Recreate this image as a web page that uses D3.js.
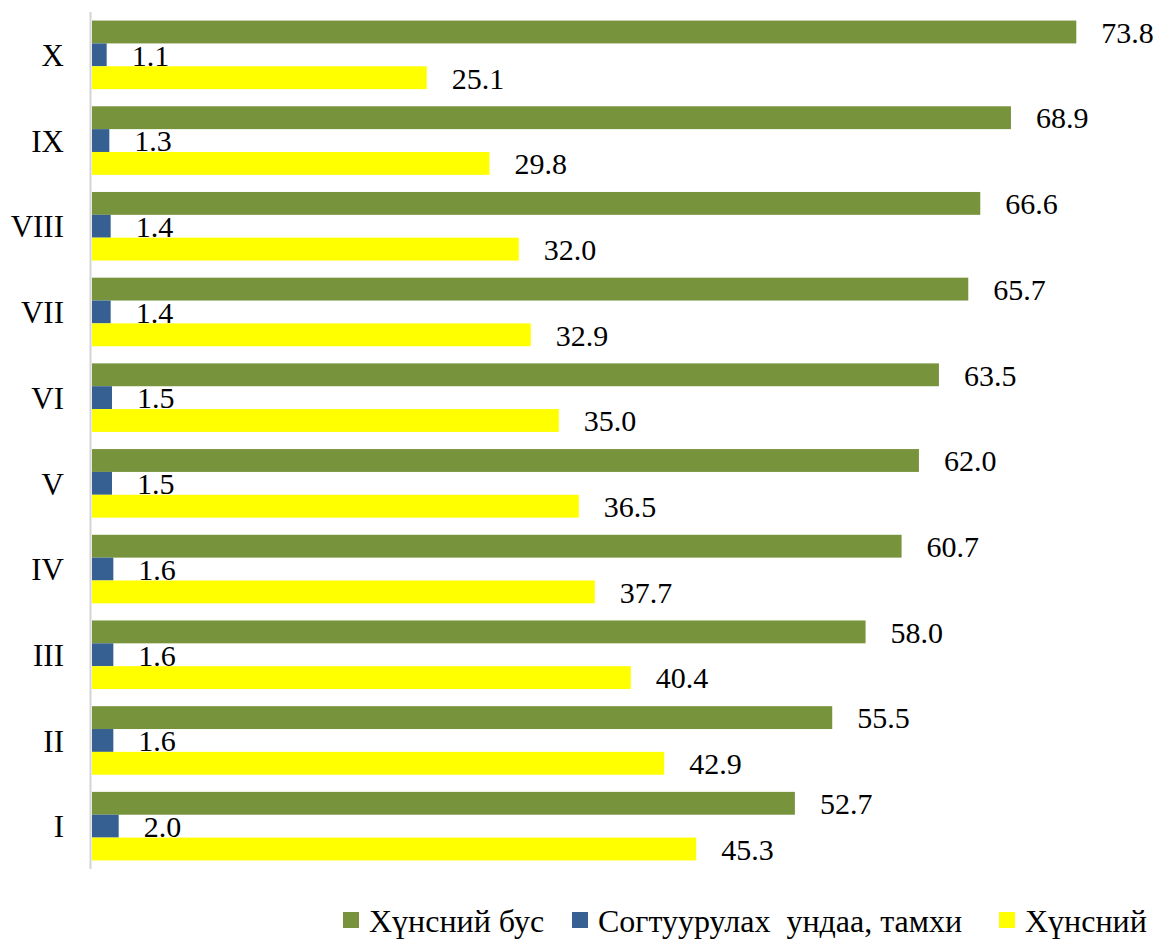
<!DOCTYPE html>
<html><head><meta charset="utf-8">
<script src="https://cdn.jsdelivr.net/npm/d3@7"></script>
<style>html,body{margin:0;padding:0;background:#fff;}svg{display:block;}
svg text{font-family:"Liberation Serif","Times New Roman",Times,"DejaVu Serif",serif;font-size:30px;fill:#000;}</style>
</head><body>
<svg id="chart" width="1159" height="940"></svg>
<script>
const categories = ["X","IX","VIII","VII","VI","V","IV","III","II","I"];
const seriesNames = ["Хүнсний бус","Согтуурулах  ундаа, тамхи","Хүнсний"];
const seriesColors = ["#77933C","#366092","#FFFF00"];
const nonFood = [73.8,68.9,66.6,65.7,63.5,62.0,60.7,58.0,55.5,52.7];
const alcoholTobacco = [1.1,1.3,1.4,1.4,1.5,1.5,1.6,1.6,1.6,2.0];
const food = [25.1,29.8,32.0,32.9,35.0,36.5,37.7,40.4,42.9,45.3];
const seriesValues = [nonFood, alcoholTobacco, food];

const svg = d3.select("#chart");

const x = d3.scaleLinear().domain([0,80]).range([92,1159]);
const y = d3.scaleBand().domain(categories).range([12,869]).padding(0);
const ys = d3.scaleBand().domain(d3.range(3)).range([0,y.bandwidth()]).paddingInner(0).paddingOuter(0.375);

// axis line
svg.append("line").attr("x1",90.5).attr("x2",90.5).attr("y1",12).attr("y2",869)
  .attr("stroke","#d4d4d4").attr("stroke-width",2);

const groups = svg.selectAll("g.cat").data(categories).join("g")
  .attr("class","cat").attr("transform",d=>`translate(0,${y(d)})`);

groups.each(function(cat,i){
  const g = d3.select(this);
  seriesValues.forEach((vals,s)=>{
    const v = vals[i];
    g.append("rect").attr("x",x(0)).attr("y",ys(s)).attr("width",x(v)-x(0)).attr("height",ys.bandwidth())
      .attr("fill",seriesColors[s]);
    g.append("text").attr("x",x(v)+25).attr("y",ys(s)+ys.bandwidth()/2).attr("dy","0.36em")
      .text(v.toFixed(1));
  });
});

// category labels
svg.selectAll("text.cl").data(categories).join("text").attr("class","cl")
  .attr("x",64).attr("y",d=>y(d)+y.bandwidth()/2).attr("dy","0.36em")
  .attr("text-anchor","end").style("font-size","31px")
  .text(d=>d);

// legend
const legendX = [343,572,999];
const leg = svg.selectAll("g.leg").data(seriesNames).join("g").attr("class","leg")
  .attr("transform",(d,i)=>`translate(${legendX[i]},912)`);
leg.append("rect").attr("width",16).attr("height",16).attr("fill",(d,i)=>seriesColors[i]);
leg.append("text").attr("x",26).attr("y",8).attr("dy","0.36em")
  .style("white-space","pre").style("font-size","32px")
  .text(d=>d);
</script>
</body></html>
